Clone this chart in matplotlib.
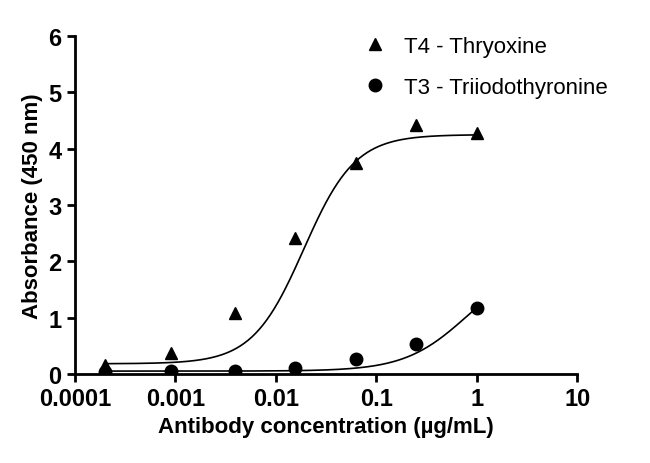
import numpy as np
import matplotlib
matplotlib.use("Agg")
import matplotlib.pyplot as plt

plt.rcParams['font.family'] = ['Liberation Sans', 'DejaVu Sans']

conc = [0.0002, 0.0009, 0.0039, 0.0156, 0.0625, 0.25, 1.0]
t4 = [0.15, 0.37, 1.08, 2.42, 3.75, 4.42, 4.28]
t3 = [0.04, 0.05, 0.06, 0.10, 0.26, 0.54, 1.17]
# 4PL fit parameters (bottom, top, EC50, hill)
t4_fit = (0.18, 4.25, 0.019, 1.7)
t3_fit = (0.05, 2.0, 0.8, 1.4)

def fourpl(x, b, t, c, h):
    return b + (t - b) / (1 + (c / x) ** h)

fig = plt.figure(figsize=(6.5, 4.64), dpi=100)
ax = fig.add_axes([0.115, 0.192, 0.773, 0.728])
xs = np.logspace(np.log10(0.0002), 0, 300)
ax.plot(xs, fourpl(xs, *t4_fit), color='black', lw=1.2)
ax.plot(xs, fourpl(xs, *t3_fit), color='black', lw=1.2)
ax.plot(conc, t4, '^', color='black', ms=9, label='T4 - Thryoxine')
ax.plot(conc, t3, 'o', color='black', ms=9, label='T3 - Triiodothyronine')

ax.set_xscale('log')
ax.set_xlim(0.0001, 10)
ax.set_ylim(0, 6)
ax.set_xticks([0.0001, 0.001, 0.01, 0.1, 1, 10])
ax.set_xticklabels(['0.0001', '0.001', '0.01', '0.1', '1', '10'])
ax.minorticks_off()
ax.set_yticks(range(7))
for s in ['top', 'right']:
    ax.spines[s].set_visible(False)
for s in ['left', 'bottom']:
    ax.spines[s].set_linewidth(2)
ax.tick_params(width=2, length=6, labelsize=17)
for lab in ax.get_xticklabels() + ax.get_yticklabels():
    lab.set_fontweight('bold')
ax.set_xlabel('Antibody concentration (µg/mL)', fontsize=16, fontweight='bold')
ax.set_ylabel('Absorbance (450 nm)', fontsize=16, fontweight='bold')
ax.legend(loc='upper right', bbox_to_anchor=(1.1, 1.06), frameon=False, fontsize=16,
          handletextpad=0.3, labelspacing=0.9)
fig.savefig('out.png', dpi=100)
